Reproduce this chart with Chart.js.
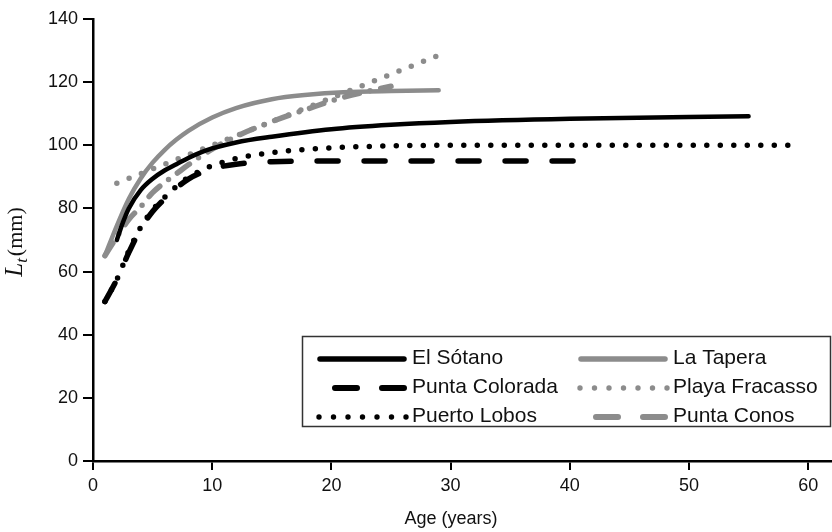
<!DOCTYPE html>
<html>
<head>
<meta charset="utf-8">
<script src="https://cdn.jsdelivr.net/npm/chart.js@4/dist/chart.umd.min.js"></script>
<style>
  html, body { margin: 0; padding: 0; background: #ffffff; }
  #wrap { width: 832px; height: 532px; position: relative; }
</style>
</head>
<body>
<div id="wrap"><canvas id="c" width="832" height="532"></canvas></div>
<script>
// ---- Data ----
const seriesNames = ["El Sótano", "Punta Colorada", "Puerto Lobos", "La Tapera", "Playa Fracasso", "Punta Conos"];

const ageElSotano = [2, 2.5, 3, 4, 5, 6, 7, 8, 9, 10, 12, 15, 20, 25, 30, 40, 55];
const lenElSotano = [70, 75.5, 80, 85.8, 89.4, 92, 94, 96, 97.7, 99, 100.9, 102.7, 105.1, 106.5, 107.4, 108.4, 109.2];

const agePuntaColorada = [1, 2, 3, 4, 5, 6, 7, 8, 9, 10, 12, 15, 20, 30, 42];
const lenPuntaColorada = [50.5, 57.5, 66, 73.5, 79, 83, 86.5, 89.3, 91.2, 92.6, 94, 94.8, 95, 95, 95];

const agePuertoLobos = [1, 2, 3, 4, 5, 6, 7, 8, 9, 10, 12, 15, 20, 25, 30, 40, 59];
const lenPuertoLobos = [50.5, 57.5, 66.5, 74, 79.5, 83.5, 87, 89.8, 91.9, 93.5, 95.8, 97.7, 99.2, 99.8, 100, 100, 100];

const ageLaTapera = [1, 2, 3, 4, 5, 6, 7, 8, 10, 12, 15, 18, 21, 25, 29];
const lenLaTapera = [65, 74.5, 83, 89.5, 94.5, 98.5, 101.8, 104.6, 108.8, 111.8, 114.6, 116, 116.8, 117.2, 117.4];

const agePlayaFracasso = [2, 10, 20, 29];
const lenPlayaFracasso = [88, 100, 115, 128.5];

const agePuntaConos = [1, 2, 3, 4, 5, 6, 7, 8, 10, 12, 15, 18, 21, 25];
const lenPuntaConos = [65, 71, 76.5, 80.5, 85, 88.2, 91, 93.8, 98.8, 102.8, 107.5, 111.5, 115.2, 118.7];

const xTicks = [0, 10, 20, 30, 40, 50, 60];
const yTicks = [0, 20, 40, 60, 80, 100, 120, 140];
const xTitle = "Age (years)";

// ---- Styles ----
const BLACK = "#000000";
const GREY = "#8c8c8c";

function pts(ages, lens) { return ages.map((a, i) => ({ x: a, y: lens[i] })); }

const styles = [
  { color: BLACK, width: 4.5, dash: [], legend: "solid" },
  { color: BLACK, width: 5.5, dash: [21, 26], legend: "dash" },
  { color: BLACK, width: 5.5, dash: [0, 13.5], legend: "dots" },
  { color: GREY, width: 4.5, dash: [], legend: "solid" },
  { color: GREY, width: 5.5, dash: [0, 13.2], legend: "dots" },
  { color: GREY, width: 5.5, dash: [15, 11, 0, 11], legend: "dash" }
];

const seriesData = [
  pts(ageElSotano, lenElSotano),
  pts(agePuntaColorada, lenPuntaColorada),
  pts(agePuertoLobos, lenPuertoLobos),
  pts(ageLaTapera, lenLaTapera),
  pts(agePlayaFracasso, lenPlayaFracasso),
  pts(agePuntaConos, lenPuntaConos)
];

const datasets = seriesNames.map((name, i) => ({
  label: name,
  data: seriesData[i],
  borderColor: styles[i].color,
  borderWidth: styles[i].width,
  borderDash: styles[i].dash,
  borderCapStyle: "round",
  borderJoinStyle: "round",
  pointRadius: 0,
  fill: false,
  cubicInterpolationMode: "monotone"
}));

// Custom legend (box inside plot), x title and y-axis title with subscript
const legendPlugin = {
  id: "customLegend",
  afterDraw(chart) {
    const ctx = chart.ctx;
    ctx.save();
    // box
    const bx = 302.5, by = 336.5, bw = 528, bh = 90;
    ctx.fillStyle = "#ffffff";
    ctx.fillRect(bx, by, bw, bh);
    ctx.strokeStyle = "#333333";
    ctx.lineWidth = 1.5;
    ctx.strokeRect(bx, by, bw, bh);

    const rowsY = [358, 387, 416];
    const colX = [317, 578];
    const order = [[0, 3], [1, 4], [2, 5]];
    ctx.font = "21px 'Liberation Sans', Arial, sans-serif";
    ctx.textBaseline = "middle";
    for (let r = 0; r < 3; r++) {
      for (let c = 0; c < 2; c++) {
        const di = order[r][c];
        const st = styles[di];
        const x1 = colX[c], x2 = colX[c] + 90, y = rowsY[r] + 1;
        ctx.strokeStyle = st.color;
        ctx.fillStyle = st.color;
        ctx.lineCap = "round";
        if (st.legend === "solid") {
          ctx.lineWidth = 5.5;
          ctx.beginPath(); ctx.moveTo(x1 + 3, y); ctx.lineTo(x2 - 3, y); ctx.stroke();
        } else if (st.legend === "dash") {
          ctx.lineWidth = 6;
          ctx.beginPath();
          ctx.moveTo(x1 + 18, y); ctx.lineTo(x1 + 40, y);
          ctx.moveTo(x1 + 65, y); ctx.lineTo(x1 + 87, y);
          ctx.stroke();
        } else {
          for (let k = 0; k < 7; k++) {
            ctx.beginPath();
            ctx.arc(x1 + 2 + k * 14.5, y, 2.7, 0, Math.PI * 2);
            ctx.fill();
          }
        }
        ctx.fillStyle = "#111111";
        ctx.fillText(seriesNames[di], x2 + 5, rowsY[r]);
      }
    }

    // x-axis title
    ctx.font = "18px 'Liberation Sans', Arial, sans-serif";
    ctx.textAlign = "center";
    ctx.textBaseline = "middle";
    ctx.fillStyle = "#111111";
    ctx.fillText(xTitle, 451, 519);

    // y-axis title: L_t(mm), rotated
    ctx.translate(28, 242);
    ctx.rotate(-Math.PI / 2);
    ctx.textBaseline = "alphabetic";
    ctx.textAlign = "left";
    const fL = "italic 25px 'Liberation Serif', 'DejaVu Serif', serif";
    const fT = "italic 17px 'Liberation Serif', 'DejaVu Serif', serif";
    const fM = "22px 'Liberation Serif', 'DejaVu Serif', serif";
    ctx.font = fL; const wL = ctx.measureText("L").width;
    ctx.font = fT; const wT = ctx.measureText("t").width;
    ctx.font = fM; const wM = ctx.measureText("(mm)").width;
    const total = wL + wT + 2 + wM;
    let x = -total / 2;
    ctx.font = fL; ctx.fillText("L", x, -6); x += wL;
    ctx.font = fT; ctx.fillText("t", x, -1); x += wT + 2;
    ctx.font = fM; ctx.fillText("(mm)", x, -6);
    ctx.restore();
  }
};

const tickFont = { family: "'Liberation Sans', Arial, sans-serif", size: 18 };

new Chart(document.getElementById("c"), {
  type: "line",
  data: { datasets },
  options: {
    responsive: false,
    animation: false,
    devicePixelRatio: 1,
    layout: { padding: { top: 19, right: 0, left: 0, bottom: 0 } },
    plugins: {
      legend: { display: false },
      tooltip: { enabled: false },
      title: { display: false }
    },
    scales: {
      x: {
        type: "linear",
        min: 0,
        max: 62,
        afterFit(scale) { scale.height = 71; },
        afterBuildTicks(scale) { scale.ticks = xTicks.map(v => ({ value: v })); },
        ticks: { font: tickFont, color: "#111", padding: 5, maxRotation: 0, includeBounds: false },
        grid: { display: true, drawOnChartArea: false, drawTicks: true, tickLength: 9, color: "#000", lineWidth: 2 },
        border: { display: true, color: "#000", width: 2.5 },
        title: { display: false }
      },
      y: {
        type: "linear",
        min: 0,
        max: 140,
        afterFit(scale) { scale.width = 93; },
        afterBuildTicks(scale) { scale.ticks = yTicks.map(v => ({ value: v })); },
        ticks: { font: tickFont, color: "#111", padding: 5 },
        grid: { display: true, drawOnChartArea: false, drawTicks: true, tickLength: 10, color: "#000", lineWidth: 2 },
        border: { display: true, color: "#000", width: 2.5 }
      }
    }
  },
  plugins: [legendPlugin]
});
</script>
</body>
</html>
